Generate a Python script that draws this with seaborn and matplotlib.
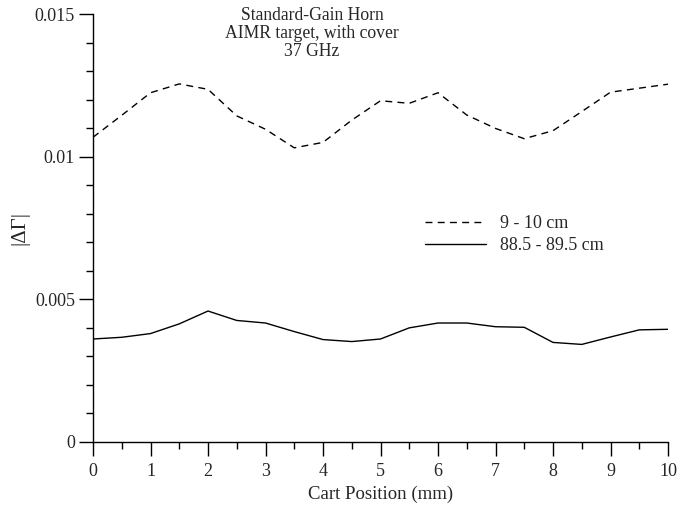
import matplotlib
matplotlib.use("Agg")
import matplotlib.pyplot as plt
import matplotlib.ticker as mticker
import seaborn as sns
import pandas as pd

cart_position = [0, 0.5, 1, 1.5, 2, 2.5, 3, 3.5, 4, 4.5, 5, 5.5, 6, 6.5, 7, 7.5, 8, 8.5, 9, 9.5, 10]
gamma_9_10 = [0.01068, 0.01145, 0.01224, 0.01255, 0.01236, 0.01143, 0.01096, 0.01031, 0.0105,
              0.01128, 0.01196, 0.01187, 0.01224, 0.01146, 0.01099, 0.01063, 0.01091, 0.01158,
              0.01226, 0.0124, 0.01254]
gamma_88_89 = [0.00361, 0.00367, 0.0038, 0.00414, 0.00459, 0.00426, 0.00417, 0.00387, 0.00359,
               0.00352, 0.00361, 0.004, 0.00417, 0.00417, 0.00404, 0.00402, 0.00349, 0.00342,
               0.00368, 0.00393, 0.00395]
series_names = ["9 - 10 cm", "88.5 - 89.5 cm"]
title_lines = ["Standard-Gain Horn", "AIMR target, with cover", "37 GHz"]

df = pd.concat([
    pd.DataFrame({"x": cart_position, "y": gamma_9_10, "series": series_names[0]}),
    pd.DataFrame({"x": cart_position, "y": gamma_88_89, "series": series_names[1]}),
])

sns.set_style("ticks")
plt.rcParams["font.family"] = ["Liberation Serif", "DejaVu Serif"]

fig = plt.figure(figsize=(6.97, 5.08), dpi=100)
ax = fig.add_axes([93 / 697, 1 - 442 / 508, (668 - 93) / 697, (442 - 14) / 508])

sns.lineplot(data=df, x="x", y="y", style="series", hue="series",
             palette={series_names[0]: "black", series_names[1]: "black"},
             dashes={series_names[0]: (5, 3.8), series_names[1]: ""},
             linewidth=1.0, ax=ax, legend=True)

ax.set_xlim(0, 10)
ax.set_ylim(0, 0.015)
ax.xaxis.set_major_locator(mticker.MultipleLocator(1))
ax.xaxis.set_minor_locator(mticker.MultipleLocator(0.5))
ax.yaxis.set_major_locator(mticker.MultipleLocator(0.005))
ax.yaxis.set_minor_locator(mticker.MultipleLocator(0.001))
ax.yaxis.set_major_formatter(mticker.FuncFormatter(lambda v, p: "%g" % round(v, 6)))
ax.tick_params(which="major", length=10, width=1, labelsize=13, color="black", pad=3)
ax.tick_params(axis="x", which="major", pad=5)
ax.tick_params(which="minor", length=5, width=1, color="black")
for s in ["top", "right"]:
    ax.spines[s].set_visible(False)
for s in ["left", "bottom"]:
    ax.spines[s].set_color("black")
    ax.spines[s].set_linewidth(1)

ax.set_xlabel("Cart Position (mm)", fontsize=13.5, labelpad=4)
ax.set_ylabel("|ΔΓ|", fontsize=15, labelpad=4)

ax.text(0.381, 1.016, "\n".join(title_lines), transform=ax.transAxes, ha="center", va="top",
        fontsize=12.7, linespacing=1.08)

handles, labels = ax.get_legend_handles_labels()
leg = ax.legend(handles=handles, labels=labels, loc="upper left", frameon=False,
                bbox_to_anchor=(425 / 697, 1 - 215 / 508), bbox_transform=fig.transFigure,
                borderaxespad=0, borderpad=0, handlelength=3.4, handletextpad=0.75,
                labelspacing=0.3, fontsize=13)

fig.savefig("out.png", dpi=100)
